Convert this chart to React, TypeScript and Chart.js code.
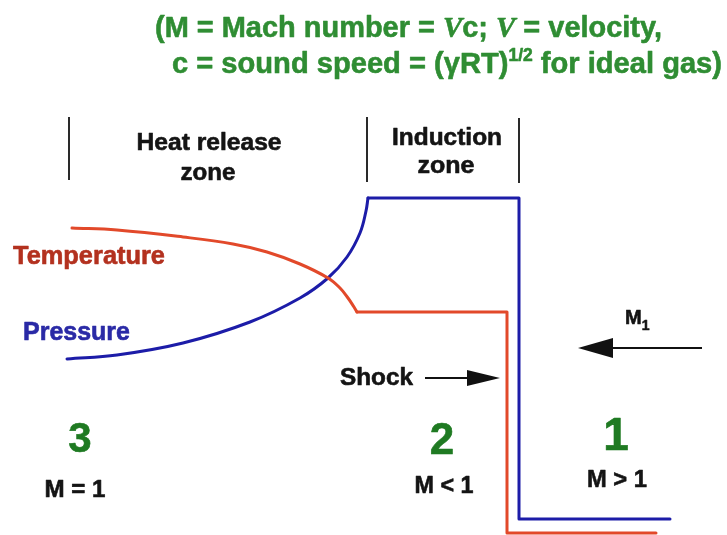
import React, { useEffect, useRef } from "react";
import { Chart, registerables } from "chart.js";

Chart.register(...registerables);

// ---- Data (diagram units: x across, y down) ----
const temperatureCurve: [number, number][] = [
  [72, 228], [117, 230], [183, 237], [233, 244], [267, 252], [300, 264],
  [328, 278], [340, 288], [348, 298], [354, 307], [357, 312],
];
const temperatureSteps: [number, number][] = [[357, 312], [507, 312], [507, 533], [656, 533]];
const pressureCurve: [number, number][] = [
  [67, 359], [117, 355], [183, 343], [250, 322], [300, 298], [328, 278],
  [347, 257], [360, 233], [366, 211], [368, 198],
];
const pressureSteps: [number, number][] = [[368, 198], [519, 198], [519, 519], [670, 519]];
const zoneDividerX = [69, 367, 519];
const zoneDividerTop = [117, 117, 118];
const zoneDividerBottom = [180, 182, 183];
const arrowFrom: [number, number][] = [[425, 378], [702, 348]];
const arrowTo: [number, number][] = [[500, 378], [578, 348]];
const regionNumbers = ["3", "2", "1"];
const regionMach = ["M = 1", "M < 1", "M > 1"];

const FONT = '"Liberation Sans", Arial, Helvetica, sans-serif';
const SERIF = '"Liberation Serif", "DejaVu Serif", serif';
const GREEN_TOP = "#2f8d33";
const GREEN_NUM = "#1f7a22";
const RED = "#e2492a";
const BLUE = "#1c1ca8";

type Seg = { t: string; font: string; color: string; dy?: number };

function drawFitted(
  ctx: CanvasRenderingContext2D,
  segs: Seg[],
  x: number,
  y: number,
  align: "left" | "center",
  width?: number
) {
  let total = 0;
  const widths: number[] = [];
  for (const s of segs) {
    ctx.font = s.font;
    const w = ctx.measureText(s.t).width;
    widths.push(w);
    total += w;
  }
  const sx = width ? width / total : 1;
  const start = align === "center" ? x - (total * sx) / 2 : x;
  ctx.save();
  ctx.translate(start, y);
  ctx.scale(sx, 1);
  ctx.textAlign = "left";
  ctx.textBaseline = "alphabetic";
  ctx.lineJoin = "round";
  let cx = 0;
  segs.forEach((s, i) => {
    ctx.font = s.font;
    ctx.fillStyle = s.color;
    ctx.strokeStyle = s.color;
    ctx.lineWidth = 0.6;
    ctx.fillText(s.t, cx, s.dy || 0);
    ctx.strokeText(s.t, cx, s.dy || 0);
    cx += widths[i];
  });
  ctx.restore();
}

const b = (size: number) => `bold ${size}px ${FONT}`;

const annotationPlugin = {
  id: "diagramAnnotations",
  afterDatasetsDraw(chart: any) {
    const ctx: CanvasRenderingContext2D = chart.ctx;
    const xs = chart.scales.x;
    const ys = chart.scales.y;
    const px = (v: number) => xs.getPixelForValue(v);
    const py = (v: number) => ys.getPixelForValue(v);

    // zone dividers
    ctx.save();
    ctx.strokeStyle = "#2a2a2a";
    ctx.lineWidth = 2;
    zoneDividerX.forEach((x, i) => {
      ctx.beginPath();
      ctx.moveTo(px(x), py(zoneDividerTop[i]));
      ctx.lineTo(px(x), py(zoneDividerBottom[i]));
      ctx.stroke();
    });
    ctx.restore();

    // arrows
    ctx.save();
    ctx.strokeStyle = "#111";
    ctx.fillStyle = "#111";
    ctx.lineWidth = 2;
    arrowFrom.forEach((f, i) => {
      const t = arrowTo[i];
      const x1 = px(f[0]), y1 = py(f[1]), x2 = px(t[0]), y2 = py(t[1]);
      const dir = Math.sign(x2 - x1);
      const headLen = i === 0 ? 33 : 35;
      const half = i === 0 ? 8 : 10;
      ctx.beginPath();
      ctx.moveTo(x1, y1);
      ctx.lineTo(x2 - dir * headLen * 0.8, y2);
      ctx.stroke();
      ctx.beginPath();
      ctx.moveTo(x2, y2);
      ctx.lineTo(x2 - dir * headLen, y2 - half);
      ctx.lineTo(x2 - dir * headLen, y2 + half);
      ctx.closePath();
      ctx.fill();
    });
    ctx.restore();

    // top note
    const vItal = `italic bold 30px ${SERIF}`;
    drawFitted(ctx, [
      { t: "(M = Mach number = ", font: b(30), color: GREEN_TOP },
      { t: "V", font: vItal, color: GREEN_TOP },
      { t: "c; ", font: b(30), color: GREEN_TOP },
      { t: "V", font: vItal, color: GREEN_TOP },
      { t: " = velocity,", font: b(30), color: GREEN_TOP },
    ], px(155), py(37), "left", 507);
    drawFitted(ctx, [
      { t: "c = sound speed = (γRT)", font: b(30), color: GREEN_TOP },
      { t: "1/2", font: b(18), color: GREEN_TOP, dy: -12 },
      { t: " for ideal gas)", font: b(30), color: GREEN_TOP },
    ], px(172), py(73), "left", 550);

    // zone labels
    const dark = "#141414";
    drawFitted(ctx, [{ t: "Heat release", font: b(24), color: dark }], px(209), py(150), "center", 145);
    drawFitted(ctx, [{ t: "zone", font: b(24), color: dark }], px(208), py(180), "center", 55);
    drawFitted(ctx, [{ t: "Induction", font: b(24), color: dark }], px(447), py(145), "center", 110);
    drawFitted(ctx, [{ t: "zone", font: b(24), color: dark }], px(446), py(173), "center", 57);

    // curve labels
    drawFitted(ctx, [{ t: "Temperature", font: b(25), color: "#b3311f" }], px(13), py(264), "left", 152);
    drawFitted(ctx, [{ t: "Pressure", font: b(25), color: "#2a2aa6" }], px(23), py(340), "left", 107);

    // shock + M1
    drawFitted(ctx, [{ t: "Shock", font: b(24), color: dark }], px(340), py(385), "left", 73);
    drawFitted(ctx, [
      { t: "M", font: b(20), color: dark },
      { t: "1", font: b(14), color: dark, dy: 6 },
    ], px(625), py(324), "left");

    // region numbers
    const numX = [80, 442, 616];
    const numBase = [452, 454, 450];
    const numSize = [42, 44, 46];
    const machX = [75, 444, 617];
    const machBase = [497, 493, 487];
    const machW = [61, 59, 60];
    regionNumbers.forEach((n, i) => {
      drawFitted(ctx, [{ t: n, font: b(numSize[i]), color: GREEN_NUM }], px(numX[i]), py(numBase[i]), "center");
      drawFitted(ctx, [{ t: regionMach[i], font: b(24), color: dark }], px(machX[i]), py(machBase[i]), "center", machW[i]);
    });
  },
};

const toPts = (arr: [number, number][]) => arr.map(([x, y]) => ({ x, y }));

export default function App() {
  const ref = useRef<HTMLCanvasElement | null>(null);
  useEffect(() => {
    if (!ref.current) return;
    const lineBase = {
      showLine: true,
      pointRadius: 0,
      borderWidth: 3,
      borderCapStyle: "round" as const,
      borderJoinStyle: "round" as const,
      fill: false,
    };
    const chart = new Chart(ref.current, {
      type: "scatter",
      data: {
        datasets: [
          { ...lineBase, label: "Temperature", data: toPts(temperatureCurve), borderColor: RED, tension: 0.4 },
          { ...lineBase, label: "Temperature steps", data: toPts(temperatureSteps), borderColor: RED, tension: 0 },
          { ...lineBase, label: "Pressure", data: toPts(pressureCurve), borderColor: BLUE, tension: 0.4 },
          { ...lineBase, label: "Pressure steps", data: toPts(pressureSteps), borderColor: BLUE, tension: 0 },
        ] as any,
      },
      options: {
        animation: false,
        responsive: false,
        devicePixelRatio: 1,
        layout: { padding: 0 },
        plugins: { legend: { display: false }, tooltip: { enabled: false } },
        scales: {
          x: { type: "linear", min: 0, max: 727, display: false },
          y: { type: "linear", min: 0, max: 535, reverse: true, display: false },
        },
      },
      plugins: [annotationPlugin],
    });
    return () => chart.destroy();
  }, []);
  return (
    <div style={{ position: "fixed", left: 0, top: 0, width: 727, height: 535, background: "#fff" }}>
      <canvas ref={ref} width={727} height={535} style={{ display: "block" }} />
    </div>
  );
}
